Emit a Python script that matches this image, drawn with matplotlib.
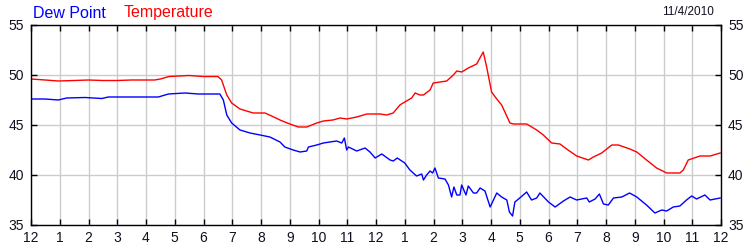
import matplotlib
matplotlib.use("Agg")
import matplotlib.pyplot as plt

# hours since midnight (11/4/2010) and readings in degrees F
temp_hours = [0, 0.49, 0.95, 1.5, 2.0, 2.5, 3.0, 3.5, 4.0, 4.3, 4.5, 4.8, 5.5, 6.0, 6.5, 6.63,
              6.81, 6.98, 7.27, 7.73, 8.14, 8.37, 8.66, 9.0, 9.3, 9.59, 9.94, 10.17, 10.5,
              10.75, 10.98, 11.33, 11.68, 12.14, 12.37, 12.6, 12.83, 13.0, 13.24, 13.36,
              13.53, 13.65, 13.88, 13.99, 14.23, 14.46, 14.69, 14.81, 14.98, 15.21, 15.5,
              15.73, 15.85, 16.02, 16.2, 16.37, 16.66, 16.78, 17.24, 17.36, 17.59, 17.82,
              18.11, 18.4, 18.63, 18.98, 19.39, 19.56, 19.85, 20.2, 20.43, 20.83, 21.07,
              21.41, 21.76, 22.11, 22.57, 22.69, 22.86, 23.27, 23.62, 23.97]
temperature = [49.6, 49.5, 49.4, 49.45, 49.5, 49.45, 49.45, 49.5, 49.5, 49.5, 49.6, 49.85,
               49.95, 49.85, 49.85, 49.5, 48.0, 47.2, 46.6, 46.2, 46.2, 45.9, 45.5, 45.1,
               44.8, 44.8, 45.2, 45.4, 45.5, 45.7, 45.6, 45.8, 46.1, 46.1, 46.0, 46.2, 47.0,
               47.3, 47.7, 48.2, 48.0, 48.0, 48.5, 49.2, 49.3, 49.4, 50.0, 50.4, 50.3, 50.7,
               51.1, 52.3, 50.8, 48.3, 47.6, 47.0, 45.2, 45.1, 45.1, 44.9, 44.5, 44.0, 43.2,
               43.1, 42.6, 41.9, 41.5, 41.8, 42.2, 43.0, 43.0, 42.6, 42.3, 41.5, 40.7, 40.2,
               40.2, 40.5, 41.5, 41.9, 41.9, 42.2]

dew_hours = [0, 0.49, 0.95, 1.24, 1.88, 2.46, 2.69, 4.43, 4.78, 5.36, 5.82, 6.57, 6.69, 6.81,
             6.98, 7.27, 7.62, 7.97, 8.31, 8.66, 8.83, 9.12, 9.36, 9.59, 9.65, 9.94, 10.17,
             10.63, 10.81, 10.9, 10.98, 11.04, 11.33, 11.62, 11.79, 11.97, 12.2, 12.49,
             12.6, 12.74, 13.0, 13.18, 13.41, 13.59, 13.65, 13.76, 13.88, 13.97, 14.05,
             14.17, 14.4, 14.52, 14.63, 14.71, 14.81, 14.92, 14.98, 15.13, 15.21, 15.39,
             15.5, 15.62, 15.79, 15.97, 16.2, 16.37, 16.55, 16.64, 16.75, 16.83, 17.0,
             17.24, 17.41, 17.59, 17.7, 18.0, 18.23, 18.52, 18.75, 18.98, 19.15, 19.33,
             19.42, 19.62, 19.77, 19.91, 20.08, 20.26, 20.55, 20.82, 21.07, 21.41, 21.7,
             21.94, 22.11, 22.34, 22.57, 22.8, 22.98, 23.15, 23.44, 23.62, 23.97]
dew_point = [47.6, 47.6, 47.5, 47.7, 47.75, 47.65, 47.8, 47.8, 48.1, 48.2, 48.1, 48.1, 47.5,
             46.0, 45.2, 44.5, 44.2, 44.0, 43.8, 43.3, 42.8, 42.5, 42.3, 42.4, 42.8, 43.0,
             43.2, 43.4, 43.2, 43.7, 42.5, 42.8, 42.4, 42.7, 42.3, 41.7, 42.1, 41.5, 41.4,
             41.7, 41.2, 40.5, 39.9, 40.1, 39.5, 40.0, 40.4, 40.2, 40.7, 39.7, 39.6, 39.0,
             37.8, 38.8, 38.0, 38.0, 39.0, 38.0, 38.9, 38.2, 38.2, 38.7, 38.4, 36.8, 38.2,
             37.8, 37.5, 36.3, 35.9, 37.3, 37.7, 38.3, 37.5, 37.7, 38.2, 37.3, 36.8, 37.4,
             37.8, 37.5, 37.6, 37.7, 37.3, 37.6, 38.1, 37.1, 37.0, 37.7, 37.8, 38.2, 37.8,
             37.0, 36.2, 36.5, 36.4, 36.8, 36.9, 37.5, 37.9, 37.6, 38.0, 37.5, 37.7]

hour_labels = ['12', '1', '2', '3', '4', '5', '6', '7', '8', '9', '10', '11',
               '12', '1', '2', '3', '4', '5', '6', '7', '8', '9', '10', '11', '12']
y_ticks = [35, 40, 45, 50, 55]

plt.rcParams['font.family'] = ['Liberation Sans', 'DejaVu Sans']

fig = plt.figure(figsize=(7.5, 2.5), dpi=100)
ax = fig.add_axes([31 / 750, 0.1, 690 / 750, 0.8])

ax.plot(temp_hours, temperature, color='#ff0000', lw=1.0)
ax.plot(dew_hours, dew_point, color='#0000ff', lw=1.0)

ax.set_xlim(0, 24)
ax.set_ylim(35, 55)
ax.set_xticks(range(25))
ax.set_xticklabels(hour_labels)
ax.set_yticks(y_ticks)
ax.grid(True, color='#cccccc', lw=1.0)
ax.set_axisbelow(True)

ax.tick_params(axis='both', direction='in', length=4, width=1, color='black',
               labelsize=10, labelcolor='#101020', top=True, right=True, labelright=True)
ax.tick_params(axis='x', pad=4)
ax.tick_params(axis='y', which='both', pad=5)
for s in ax.spines.values():
    s.set_linewidth(1.0)
    s.set_color('black')

fig.text(33 / 750, 1 - 13 / 250, 'Dew Point', color='#0000ff', fontsize=11.5, va='center')
fig.text(124 / 750, 1 - 13 / 250, 'Temperature', color='#ff0000', fontsize=11.5, va='center')
fig.text(714 / 750, 1 - 12 / 250, '11/4/2010', color='#101020', fontsize=8.5,
         va='center', ha='right')

fig.savefig('out.png', dpi=100)
